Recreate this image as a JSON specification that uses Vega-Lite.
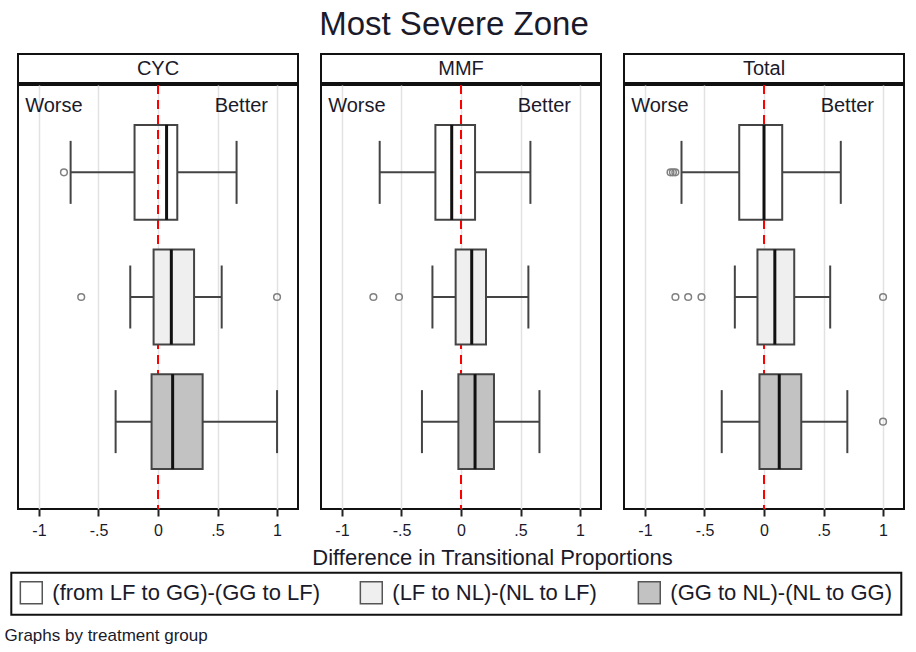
{
  "$schema": "https://vega.github.io/schema/vega-lite/v6.json",
  "padding": {"left": 3, "top": 9, "right": 5, "bottom": 5},
  "title": {"text": "Most Severe Zone", "fontSize": 33, "fontWeight": "normal", "color": "#1a1a2a", "anchor": "middle", "offset": 11},
  "datasets": {
    "boxes": [
      {"panel": "CYC", "group": "(from LF to GG)-(GG to LF)", "lo": -0.734, "q1": -0.197, "median": 0.072, "q3": 0.162, "hi": 0.66},
      {"panel": "CYC", "group": "(LF to NL)-(NL to LF)", "lo": -0.233, "q1": -0.037, "median": 0.112, "q3": 0.303, "hi": 0.535},
      {"panel": "CYC", "group": "(GG to NL)-(NL to GG)", "lo": -0.356, "q1": -0.054, "median": 0.123, "q3": 0.375, "hi": 1.0},
      {"panel": "MMF", "group": "(from LF to GG)-(GG to LF)", "lo": -0.683, "q1": -0.215, "median": -0.078, "q3": 0.118, "hi": 0.583},
      {"panel": "MMF", "group": "(LF to NL)-(NL to LF)", "lo": -0.24, "q1": -0.045, "median": 0.09, "q3": 0.21, "hi": 0.566},
      {"panel": "MMF", "group": "(GG to NL)-(NL to GG)", "lo": -0.328, "q1": -0.022, "median": 0.118, "q3": 0.277, "hi": 0.659},
      {"panel": "Total", "group": "(from LF to GG)-(GG to LF)", "lo": -0.693, "q1": -0.208, "median": 0.0, "q3": 0.153, "hi": 0.645},
      {"panel": "Total", "group": "(LF to NL)-(NL to LF)", "lo": -0.245, "q1": -0.055, "median": 0.091, "q3": 0.254, "hi": 0.556},
      {"panel": "Total", "group": "(GG to NL)-(NL to GG)", "lo": -0.355, "q1": -0.038, "median": 0.128, "q3": 0.313, "hi": 0.70}
    ],
    "outliers": [
      {"panel": "CYC", "group": "(from LF to GG)-(GG to LF)", "value": -0.79},
      {"panel": "CYC", "group": "(LF to NL)-(NL to LF)", "value": -0.645},
      {"panel": "CYC", "group": "(LF to NL)-(NL to LF)", "value": 1.0},
      {"panel": "MMF", "group": "(LF to NL)-(NL to LF)", "value": -0.736},
      {"panel": "MMF", "group": "(LF to NL)-(NL to LF)", "value": -0.521},
      {"panel": "Total", "group": "(from LF to GG)-(GG to LF)", "value": -0.785},
      {"panel": "Total", "group": "(from LF to GG)-(GG to LF)", "value": -0.765},
      {"panel": "Total", "group": "(from LF to GG)-(GG to LF)", "value": -0.745},
      {"panel": "Total", "group": "(LF to NL)-(NL to LF)", "value": -0.744},
      {"panel": "Total", "group": "(LF to NL)-(NL to LF)", "value": -0.637},
      {"panel": "Total", "group": "(LF to NL)-(NL to LF)", "value": -0.525},
      {"panel": "Total", "group": "(LF to NL)-(NL to LF)", "value": 1.0},
      {"panel": "Total", "group": "(GG to NL)-(NL to GG)", "value": 1.0}
    ],
    "notes": [
      {"label": "Worse", "x": -0.875},
      {"label": "Better", "x": 0.70}
    ]
  },
  "vconcat": [
    {
      "hconcat": [
        {"data": {"values": [{"panel": "CYC"}]}, "width": 280, "height": 29,
         "view": {"stroke": "#111", "strokeWidth": 2, "fill": "white"},
         "mark": {"type": "text", "fontSize": 20, "color": "#1a1a2a"},
         "encoding": {"x": {"field": "panel", "type": "nominal", "axis": null}, "y": {"field": "panel", "type": "nominal", "axis": null}, "text": {"field": "panel"}}},
        {"data": {"values": [{"panel": "MMF"}]}, "width": 280, "height": 29,
         "view": {"stroke": "#111", "strokeWidth": 2, "fill": "white"},
         "mark": {"type": "text", "fontSize": 20, "color": "#1a1a2a"},
         "encoding": {"x": {"field": "panel", "type": "nominal", "axis": null}, "y": {"field": "panel", "type": "nominal", "axis": null}, "text": {"field": "panel"}}},
        {"data": {"values": [{"panel": "Total"}]}, "width": 280, "height": 29,
         "view": {"stroke": "#111", "strokeWidth": 2, "fill": "white"},
         "mark": {"type": "text", "fontSize": 20, "color": "#1a1a2a"},
         "encoding": {"x": {"field": "panel", "type": "nominal", "axis": null}, "y": {"field": "panel", "type": "nominal", "axis": null}, "text": {"field": "panel"}}}
      ],
      "spacing": 23,
      "bounds": "flush",
      "resolve": {"scale": {"x": "independent", "y": "independent"}}
    },
    {
      "hconcat": [
        {"width": 280, "height": 424,
         "layer": [
           {"data": {"values": [{"ref": 0}]},
            "mark": {"type": "rule", "color": "#ff0000", "strokeDash": [9, 6], "strokeWidth": 2},
            "encoding": {"x": {"field": "ref", "type": "quantitative", "scale": {"domain": [-1.176, 1.176], "nice": false, "zero": false}, "title": "Graphs by treatment group",
              "axis": {"values": [-1, -0.5, 0, 0.5, 1], "labelExpr": "datum.value == -1 ? '-1' : datum.value == -0.5 ? '-.5' : datum.value == 0 ? '0' : datum.value == 0.5 ? '.5' : '1'", "titleX": -14, "titleY": 126, "titleAlign": "left", "titleBaseline": "middle", "titleFontSize": 17}}}},
           {"data": {"name": "boxes"}, "transform": [{"filter": "datum.panel == 'CYC'"}],
            "mark": {"type": "rule", "color": "#444", "strokeWidth": 2},
            "encoding": {"x": {"field": "lo", "type": "quantitative", "title": "Graphs by treatment group"}, "x2": {"field": "q1"},
              "y": {"field": "group", "type": "nominal", "scale": {"domain": ["(from LF to GG)-(GG to LF)", "(LF to NL)-(NL to LF)", "(GG to NL)-(NL to GG)"], "paddingInner": 0.238, "paddingOuter": 0.32}, "axis": null}}},
           {"data": {"name": "boxes"}, "transform": [{"filter": "datum.panel == 'CYC'"}],
            "mark": {"type": "rule", "color": "#444", "strokeWidth": 2},
            "encoding": {"x": {"field": "q3", "type": "quantitative", "title": "Graphs by treatment group"}, "x2": {"field": "hi"},
              "y": {"field": "group", "type": "nominal", "axis": null}}},
           {"data": {"name": "boxes"}, "transform": [{"filter": "datum.panel == 'CYC'"}],
            "mark": {"type": "tick", "color": "#444", "size": 63, "thickness": 2, "opacity": 1},
            "encoding": {"x": {"field": "lo", "type": "quantitative", "title": "Graphs by treatment group"},
              "y": {"field": "group", "type": "nominal", "axis": null}}},
           {"data": {"name": "boxes"}, "transform": [{"filter": "datum.panel == 'CYC'"}],
            "mark": {"type": "tick", "color": "#444", "size": 63, "thickness": 2, "opacity": 1},
            "encoding": {"x": {"field": "hi", "type": "quantitative", "title": "Graphs by treatment group"},
              "y": {"field": "group", "type": "nominal", "axis": null}}},
           {"data": {"name": "boxes"}, "transform": [{"filter": "datum.panel == 'CYC'"}],
            "mark": {"type": "bar", "stroke": "#444", "strokeWidth": 2},
            "encoding": {"x": {"field": "q1", "type": "quantitative", "title": "Graphs by treatment group"}, "x2": {"field": "q3"},
              "y": {"field": "group", "type": "nominal", "axis": null},
              "fill": {"field": "group", "type": "nominal", "scale": {"domain": ["(from LF to GG)-(GG to LF)", "(LF to NL)-(NL to LF)", "(GG to NL)-(NL to GG)"], "range": ["transparent", "#efefef", "#c2c2c2"]},
                "legend": {"orient": "none", "legendX": -6.7, "legendY": 518.7, "direction": "horizontal", "title": null}}}},
           {"data": {"name": "boxes"}, "transform": [{"filter": "datum.panel == 'CYC'"}],
            "mark": {"type": "tick", "color": "#111", "size": 95, "thickness": 3, "opacity": 1},
            "encoding": {"x": {"field": "median", "type": "quantitative", "title": "Graphs by treatment group"},
              "y": {"field": "group", "type": "nominal", "axis": null}}},
           {"data": {"name": "outliers"}, "transform": [{"filter": "datum.panel == 'CYC'"}],
            "mark": {"type": "point", "shape": "circle", "filled": false, "size": 45, "strokeWidth": 1.5, "color": "#808080", "opacity": 1},
            "encoding": {"x": {"field": "value", "type": "quantitative", "title": "Graphs by treatment group"},
              "y": {"field": "group", "type": "nominal", "axis": null}}},
           {"data": {"name": "notes"},
            "mark": {"type": "text", "dy": -66, "fontSize": 20, "color": "#1a1a2a"},
            "encoding": {"x": {"field": "x", "type": "quantitative", "title": "Graphs by treatment group"},
              "y": {"datum": "(from LF to GG)-(GG to LF)", "type": "nominal", "axis": null},
              "text": {"field": "label"}}}
         ]},
        {"width": 280, "height": 424,
         "layer": [
           {"data": {"values": [{"ref": 0}]},
            "mark": {"type": "rule", "color": "#ff0000", "strokeDash": [9, 6], "strokeWidth": 2},
            "encoding": {"x": {"field": "ref", "type": "quantitative", "scale": {"domain": [-1.176, 1.176], "nice": false, "zero": false}, "title": "Difference in Transitional Proportions",
              "axis": {"values": [-1, -0.5, 0, 0.5, 1], "labelExpr": "datum.value == -1 ? '-1' : datum.value == -0.5 ? '-.5' : datum.value == 0 ? '0' : datum.value == 0.5 ? '.5' : '1'", "titleX": 171, "titleY": 48, "titleAlign": "center", "titleBaseline": "middle", "titleFontSize": 22}}}},
           {"data": {"name": "boxes"}, "transform": [{"filter": "datum.panel == 'MMF'"}],
            "mark": {"type": "rule", "color": "#444", "strokeWidth": 2},
            "encoding": {"x": {"field": "lo", "type": "quantitative", "title": "Difference in Transitional Proportions"}, "x2": {"field": "q1"},
              "y": {"field": "group", "type": "nominal", "scale": {"domain": ["(from LF to GG)-(GG to LF)", "(LF to NL)-(NL to LF)", "(GG to NL)-(NL to GG)"], "paddingInner": 0.238, "paddingOuter": 0.32}, "axis": null}}},
           {"data": {"name": "boxes"}, "transform": [{"filter": "datum.panel == 'MMF'"}],
            "mark": {"type": "rule", "color": "#444", "strokeWidth": 2},
            "encoding": {"x": {"field": "q3", "type": "quantitative", "title": "Difference in Transitional Proportions"}, "x2": {"field": "hi"},
              "y": {"field": "group", "type": "nominal", "axis": null}}},
           {"data": {"name": "boxes"}, "transform": [{"filter": "datum.panel == 'MMF'"}],
            "mark": {"type": "tick", "color": "#444", "size": 63, "thickness": 2, "opacity": 1},
            "encoding": {"x": {"field": "lo", "type": "quantitative", "title": "Difference in Transitional Proportions"},
              "y": {"field": "group", "type": "nominal", "axis": null}}},
           {"data": {"name": "boxes"}, "transform": [{"filter": "datum.panel == 'MMF'"}],
            "mark": {"type": "tick", "color": "#444", "size": 63, "thickness": 2, "opacity": 1},
            "encoding": {"x": {"field": "hi", "type": "quantitative", "title": "Difference in Transitional Proportions"},
              "y": {"field": "group", "type": "nominal", "axis": null}}},
           {"data": {"name": "boxes"}, "transform": [{"filter": "datum.panel == 'MMF'"}],
            "mark": {"type": "bar", "stroke": "#444", "strokeWidth": 2},
            "encoding": {"x": {"field": "q1", "type": "quantitative", "title": "Difference in Transitional Proportions"}, "x2": {"field": "q3"},
              "y": {"field": "group", "type": "nominal", "axis": null},
              "fill": {"field": "group", "type": "nominal", "scale": {"domain": ["(from LF to GG)-(GG to LF)", "(LF to NL)-(NL to LF)", "(GG to NL)-(NL to GG)"], "range": ["transparent", "#efefef", "#c2c2c2"]},
                "legend": {"orient": "none", "legendX": -6.7, "legendY": 518.7, "direction": "horizontal", "title": null}}}},
           {"data": {"name": "boxes"}, "transform": [{"filter": "datum.panel == 'MMF'"}],
            "mark": {"type": "tick", "color": "#111", "size": 95, "thickness": 3, "opacity": 1},
            "encoding": {"x": {"field": "median", "type": "quantitative", "title": "Difference in Transitional Proportions"},
              "y": {"field": "group", "type": "nominal", "axis": null}}},
           {"data": {"name": "outliers"}, "transform": [{"filter": "datum.panel == 'MMF'"}],
            "mark": {"type": "point", "shape": "circle", "filled": false, "size": 45, "strokeWidth": 1.5, "color": "#808080", "opacity": 1},
            "encoding": {"x": {"field": "value", "type": "quantitative", "title": "Difference in Transitional Proportions"},
              "y": {"field": "group", "type": "nominal", "axis": null}}},
           {"data": {"name": "notes"},
            "mark": {"type": "text", "dy": -66, "fontSize": 20, "color": "#1a1a2a"},
            "encoding": {"x": {"field": "x", "type": "quantitative", "title": "Difference in Transitional Proportions"},
              "y": {"datum": "(from LF to GG)-(GG to LF)", "type": "nominal", "axis": null},
              "text": {"field": "label"}}}
         ]},
        {"width": 280, "height": 424,
         "layer": [
           {"data": {"values": [{"ref": 0}]},
            "mark": {"type": "rule", "color": "#ff0000", "strokeDash": [9, 6], "strokeWidth": 2},
            "encoding": {"x": {"field": "ref", "type": "quantitative", "scale": {"domain": [-1.176, 1.176], "nice": false, "zero": false}, "title": null,
              "axis": {"values": [-1, -0.5, 0, 0.5, 1], "labelExpr": "datum.value == -1 ? '-1' : datum.value == -0.5 ? '-.5' : datum.value == 0 ? '0' : datum.value == 0.5 ? '.5' : '1'"}}}},
           {"data": {"name": "boxes"}, "transform": [{"filter": "datum.panel == 'Total'"}],
            "mark": {"type": "rule", "color": "#444", "strokeWidth": 2},
            "encoding": {"x": {"field": "lo", "type": "quantitative", "title": null}, "x2": {"field": "q1"},
              "y": {"field": "group", "type": "nominal", "scale": {"domain": ["(from LF to GG)-(GG to LF)", "(LF to NL)-(NL to LF)", "(GG to NL)-(NL to GG)"], "paddingInner": 0.238, "paddingOuter": 0.32}, "axis": null}}},
           {"data": {"name": "boxes"}, "transform": [{"filter": "datum.panel == 'Total'"}],
            "mark": {"type": "rule", "color": "#444", "strokeWidth": 2},
            "encoding": {"x": {"field": "q3", "type": "quantitative", "title": null}, "x2": {"field": "hi"},
              "y": {"field": "group", "type": "nominal", "axis": null}}},
           {"data": {"name": "boxes"}, "transform": [{"filter": "datum.panel == 'Total'"}],
            "mark": {"type": "tick", "color": "#444", "size": 63, "thickness": 2, "opacity": 1},
            "encoding": {"x": {"field": "lo", "type": "quantitative", "title": null},
              "y": {"field": "group", "type": "nominal", "axis": null}}},
           {"data": {"name": "boxes"}, "transform": [{"filter": "datum.panel == 'Total'"}],
            "mark": {"type": "tick", "color": "#444", "size": 63, "thickness": 2, "opacity": 1},
            "encoding": {"x": {"field": "hi", "type": "quantitative", "title": null},
              "y": {"field": "group", "type": "nominal", "axis": null}}},
           {"data": {"name": "boxes"}, "transform": [{"filter": "datum.panel == 'Total'"}],
            "mark": {"type": "bar", "stroke": "#444", "strokeWidth": 2},
            "encoding": {"x": {"field": "q1", "type": "quantitative", "title": null}, "x2": {"field": "q3"},
              "y": {"field": "group", "type": "nominal", "axis": null},
              "fill": {"field": "group", "type": "nominal", "scale": {"domain": ["(from LF to GG)-(GG to LF)", "(LF to NL)-(NL to LF)", "(GG to NL)-(NL to GG)"], "range": ["transparent", "#efefef", "#c2c2c2"]},
                "legend": {"orient": "none", "legendX": -6.7, "legendY": 518.7, "direction": "horizontal", "title": null}}}},
           {"data": {"name": "boxes"}, "transform": [{"filter": "datum.panel == 'Total'"}],
            "mark": {"type": "tick", "color": "#111", "size": 95, "thickness": 3, "opacity": 1},
            "encoding": {"x": {"field": "median", "type": "quantitative", "title": null},
              "y": {"field": "group", "type": "nominal", "axis": null}}},
           {"data": {"name": "outliers"}, "transform": [{"filter": "datum.panel == 'Total'"}],
            "mark": {"type": "point", "shape": "circle", "filled": false, "size": 45, "strokeWidth": 1.5, "color": "#808080", "opacity": 1},
            "encoding": {"x": {"field": "value", "type": "quantitative", "title": null},
              "y": {"field": "group", "type": "nominal", "axis": null}}},
           {"data": {"name": "notes"},
            "mark": {"type": "text", "dy": -66, "fontSize": 20, "color": "#1a1a2a"},
            "encoding": {"x": {"field": "x", "type": "quantitative", "title": null},
              "y": {"datum": "(from LF to GG)-(GG to LF)", "type": "nominal", "axis": null},
              "text": {"field": "label"}}}
         ]}
      ],
      "spacing": 23,
      "bounds": "flush"
    }
  ],
  "spacing": -1,
  "resolve": {"scale": {"fill": "shared"}, "legend": {"fill": "shared"}},
  "config": {
    "font": "Liberation Sans",
    "view": {"stroke": "#111", "strokeWidth": 2},
    "axisX": {
      "domain": false, "ticks": true, "tickSize": 7, "tickWidth": 2, "tickColor": "#222",
      "grid": true, "gridColor": "#e2e2e2", "gridWidth": 1.5,
      "labelFontSize": 16, "labelColor": "#1a1a2a", "labelPadding": 6, "labelFlush": false,
      "titleFontWeight": "normal", "titleColor": "#1a1a2a", "titleFontSize": 22
    },
    "legend": {
      "symbolType": "square", "symbolSize": 480, "symbolStrokeColor": "#555", "symbolStrokeWidth": 1.5, "symbolOpacity": 1,
      "labelFontSize": 22, "labelColor": "#1a1a2a", "labelOffset": 9, "labelLimit": 400,
      "columnPadding": 37, "padding": 8, "strokeColor": "#111", "strokeWidth": 2
    }
  }
}
